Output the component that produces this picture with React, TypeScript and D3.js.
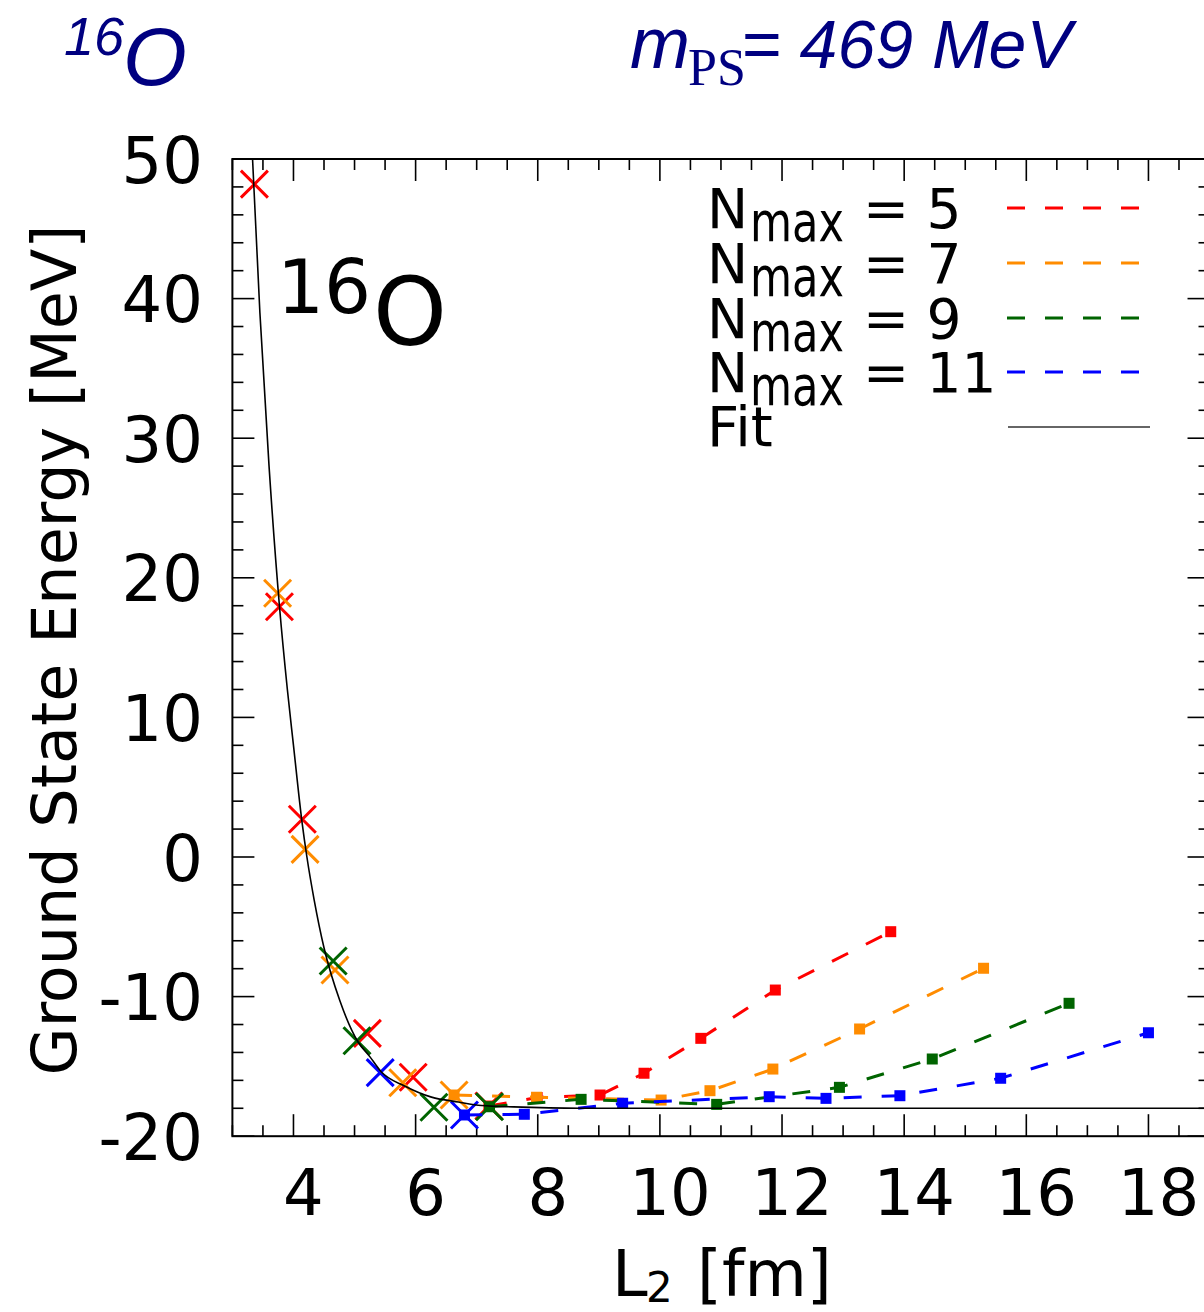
import React from "react";
import * as d3 from "d3";

// ---- data ----
const xTickValues = [4, 6, 8, 10, 12, 14, 16, 18];
const yTickValues = [-20, -10, 0, 10, 20, 30, 40, 50];
const seriesNames = ["5", "7", "9", "11"];
const seriesColors = ["#ff0000", "#ff8c00", "#006400", "#0000ff"];

// X markers (fit input points)
const crossN5L = [3.36, 3.77, 4.145, 5.21, 5.96, 7.2];
const crossN5E = [48.2, 17.93, 2.7, -12.63, -15.78, -17.84];
const crossN7L = [3.74, 4.19, 4.68, 5.79, 6.63];
const crossN7E = [18.89, 0.55, -8.09, -16.17, -17.05];
const crossN9L = [4.65, 5.04, 6.3, 7.21];
const crossN9E = [-7.45, -13.16, -17.93, -17.89];
const crossN11L = [5.42, 6.8];
const crossN11E = [-15.45, -18.48];

// square markers joined by dashed lines
const sqN5L = [7.2, 7.99, 9.02, 9.74, 10.67, 11.89, 13.78];
const sqN5E = [-17.84, -17.23, -17.05, -15.49, -12.99, -9.53, -5.35];
const sqN7L = [6.63, 7.98, 10.02, 10.82, 11.85, 13.27, 15.3];
const sqN7E = [-17.05, -17.21, -17.41, -16.74, -15.19, -12.32, -7.97];
const sqN9L = [7.21, 8.71, 10.93, 12.94, 14.46, 16.7];
const sqN9E = [-17.89, -17.36, -17.72, -16.5, -14.47, -10.48];
const sqN11L = [6.8, 7.78, 9.39, 11.79, 12.72, 13.93, 15.58, 18.0];
const sqN11E = [-18.48, -18.43, -17.64, -17.17, -17.29, -17.1, -15.85, -12.59];

// fit curve
const fitL = [3.33, 3.45, 3.6, 3.77, 3.9, 4.0, 4.14, 4.22, 4.34, 4.5, 4.76, 5.05, 5.25, 5.44, 5.82, 6.26, 6.7, 7.08, 7.6, 8.7, 12, 19];
const fitE = [50, 39, 28, 18, 12, 8, 2.5, 0, -3.1, -6.5, -10.3, -13.2, -14.3, -15.4, -16.4, -17.2, -17.55, -17.8, -17.9, -18.0, -18.0, -18.0];

const crossSets = [
  [crossN5L, crossN5E],
  [crossN7L, crossN7E],
  [crossN9L, crossN9E],
  [crossN11L, crossN11E],
];
const squareSets = [
  [sqN5L, sqN5E],
  [sqN7L, sqN7E],
  [sqN9L, sqN9E],
  [sqN11L, sqN11E],
];

export default function App() {
  const W = 1204;
  const H = 1312;
  const left = 232.4;
  const top = 159.0;
  const bottom = 1136.2;
  const x = d3.scaleLinear().domain([3, 19]).range([left, left + 16 * 61.07]);
  const y = d3.scaleLinear().domain([-20, 50]).range([bottom, top]);
  const right = x(19);

  const minorX = d3.range(3, 19.01, 0.5);
  const minorY = d3.range(-20, 50.01, 2);

  const line = d3
    .line<[number, number]>()
    .x((d) => x(d[0]))
    .y((d) => y(d[1]));
  const fitLine = d3
    .line<[number, number]>()
    .x((d) => x(d[0]))
    .y((d) => y(d[1]))
    .curve(d3.curveMonotoneX);

  const fitPts: [number, number][] = fitL.map((l, i) => [l, fitE[i]]);
  const axisFont = "DejaVu Sans";
  const cs = 13.5;
  const sq = 11;

  const legendRows = [208, 263, 318, 372];

  return (
    <svg
      width={W}
      height={H}
      viewBox={`0 0 ${W} ${H}`}
      style={{ position: "absolute", left: 0, top: 0, background: "#fff" }}
    >
      <rect x={0} y={0} width={W} height={H} fill="#fff" />
      <defs>
        <clipPath id="plotclip">
          <rect x={left} y={top} width={right - left} height={bottom - top} />
        </clipPath>
      </defs>

      {/* titles */}
      <text x={64} y={55} fontFamily="Liberation Sans" fontStyle="italic" fontSize={54} fill="#000080">
        16
        <tspan x={123} y={85} fontSize={82}>O</tspan>
      </text>
      <text x={630} y={68} fontFamily="Liberation Sans" fontStyle="italic" fontSize={72} fill="#000080">
        m
        <tspan x={688} y={85} fontFamily="Liberation Serif" fontStyle="normal" fontSize={52}>PS</tspan>
        <tspan x={741} y={68} fontSize={68}>= 469 MeV</tspan>
      </text>

      {/* ticks */}
      <g stroke="#000" strokeWidth={1.6}>
        {minorX.map((v, i) => {
          const major = xTickValues.some((t) => Math.abs(t - v) < 1e-6);
          const len = major ? 22 : 11;
          return (
            <g key={"xt" + i}>
              <line x1={x(v)} x2={x(v)} y1={bottom} y2={bottom - len} />
              <line x1={x(v)} x2={x(v)} y1={top} y2={top + len} />
            </g>
          );
        })}
        {minorY.map((v, i) => {
          const major = yTickValues.some((t) => Math.abs(t - v) < 1e-6);
          const len = major ? 22 : 11;
          return (
            <g key={"yt" + i}>
              <line x1={left} x2={left + len} y1={y(v)} y2={y(v)} />
              <line x1={right} x2={right - len} y1={y(v)} y2={y(v)} />
            </g>
          );
        })}
      </g>

      {/* tick labels */}
      {xTickValues.map((v) => (
        <text key={"xl" + v} x={x(v) + 10} y={1215} textAnchor="middle" fontFamily={axisFont} fontSize={64} fill="#000">
          {v}
        </text>
      ))}
      {yTickValues.map((v) => (
        <text key={"yl" + v} x={203} y={y(v) + 23.5} textAnchor="end" fontFamily={axisFont} fontSize={64} fill="#000">
          {v}
        </text>
      ))}

      {/* axis labels */}
      <text
        transform="translate(76,650) rotate(-90)"
        textAnchor="middle"
        fontFamily={axisFont}
        fontSize={62}
        fill="#000"
      >
        Ground State Energy [MeV]
      </text>
      <text x={612} y={1296} fontFamily={axisFont} fontSize={64} fill="#000">
        L
        <tspan x={646} y={1302} fontSize={42}>2</tspan>
        <tspan x={697} y={1296}>[fm]</tspan>
      </text>

      {/* in-plot label */}
      <text x={277} y={313} fontFamily={axisFont} fontSize={74} fill="#000">
        16
        <tspan x={373} y={345} fontSize={94}>O</tspan>
      </text>

      {/* data */}
      <g clipPath="url(#plotclip)">
        {seriesNames.map((n, si) => {
          const [sl, se] = squareSets[si];
          const pts: [number, number][] = sl.map((l, i) => [l, se[i]]);
          const [cl, ce] = crossSets[si];
          const col = seriesColors[si];
          return (
            <g key={"s" + n}>
              <path d={line(pts) || ""} fill="none" stroke={col} strokeWidth={3} strokeDasharray="18,20" />
              {pts.map((p, i) => (
                <rect key={"q" + i} x={x(p[0]) - sq / 2} y={y(p[1]) - sq / 2} width={sq} height={sq} fill={col} />
              ))}
              {cl.map((l, i) => (
                <path
                  key={"c" + i}
                  d={`M${x(l) - cs},${y(ce[i]) - cs}L${x(l) + cs},${y(ce[i]) + cs}M${x(l) - cs},${y(ce[i]) + cs}L${x(l) + cs},${y(ce[i]) - cs}`}
                  stroke={col}
                  strokeWidth={3}
                  fill="none"
                />
              ))}
            </g>
          );
        })}
        <path d={fitLine(fitPts) || ""} fill="none" stroke="#000" strokeWidth={1.6} />
      </g>

      {/* legend */}
      {seriesNames.map((n, i) => (
        <g key={"lg" + n}>
          <text x={707} y={legendRows[i] + 20} fontFamily={axisFont} fontSize={55} fill="#000">
            N
            <tspan x={750} y={legendRows[i] + 33} textLength={94} lengthAdjust="spacingAndGlyphs">max</tspan>
            <tspan x={863} y={legendRows[i] + 20}>{"= " + n}</tspan>
          </text>
          <line
            x1={1007}
            x2={1140}
            y1={legendRows[i]}
            y2={legendRows[i]}
            stroke={seriesColors[i]}
            strokeWidth={3}
            strokeDasharray="18,20"
          />
        </g>
      ))}
      <text x={707} y={446} fontFamily={axisFont} fontSize={56} fill="#000">
        Fit
      </text>
      <line x1={1008} x2={1150} y1={427} y2={427} stroke="#333" strokeWidth={1.6} />

      {/* frame */}
      <rect x={left} y={top} width={right - left} height={bottom - top} fill="none" stroke="#000" strokeWidth={2} />
    </svg>
  );
}
